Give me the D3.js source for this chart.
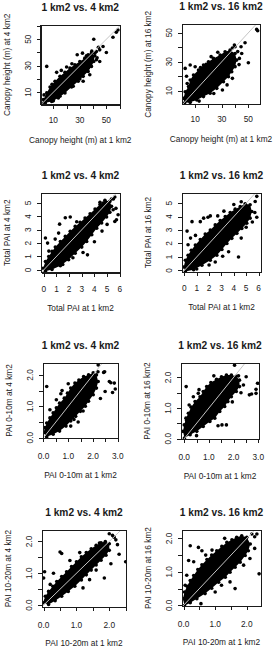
<!DOCTYPE html>
<html>
<head>
<meta charset="utf-8">
<script src="https://cdn.jsdelivr.net/npm/d3@7"></script>
<style>
  body { margin: 0; background: #fff; }
  svg { display: block; font-family: "Liberation Sans", Arial, sans-serif; }
</style>
</head>
<body>
<svg id="chart" width="275" height="647"></svg>
<script>
// titles / labels
const titles = ["1 km2 vs. 4 km2", "1 km2 vs. 16 km2"];
const xLabels = ["Canopy height (m) at 1 km2", "Total PAI at 1 km2", "PAI 0-10m at 1 km2", "PAI 10-20m at 1 km2"];
const yLabels = [
  ["Canopy height (m) at 4 km2", "Canopy height (m) at 16 km2"],
  ["Total PAI at 4 km2", "Total PAI at 16 km2"],
  ["PAI 0-10m at 4 km2", "PAI 0-10m at 16 km2"],
  ["PAI 10-20m at 4 km2", "PAI 10-20m at 16 km2"]
];

// ticks (R shows only the labels that fit)
const canopyTicks = [0, 10, 20, 30, 40, 50, 60];
const canopyTickLabels = [10, 30, 50];
const totalTicks = [0, 1, 2, 3, 4, 5, 6];
const totalTickLabels = [0, 1, 2, 3, 4, 5, 6];
const layerTicks = [0, 0.5, 1, 1.5, 2, 2.5, 3];
const layerTickLabels = [0, 1, 2, 3];

// dense cloud outline + single points
const canopy4Core = [[2.5,4.5],[5,9.5],[7.5,14],[11.25,18.25],[15,22],[18.75,25],[22.5,28.25],[26.25,30.75],[30,33.25],[33.75,35.75],[36.25,38.25],[38.75,39.5],
  [41.25,37.5],[40.5,33.25],[38.75,29.5],[36.25,25.75],[32.5,22],[28.75,18.25],[23.75,14],[18.75,9.5],[13.75,5.75],[8.75,3],[4,2],[1.5,1.5]];
const canopy4Dots = [[5,29.5],[12.5,25],[16,26.5],[28,38.25],[32,39.5],[40.5,50],[44,44],[45,42],[42.5,34.5],[45,33.25],[50,40],[55,51.5],[58.75,57],[57.5,55.25],
  [47.5,44.5],[32.5,18.25],[37.5,23.25],[41.25,39.5],[42.5,40.75],[20,29],[24,31.5],[9,16],[3,8],[35,37.5],[39,41],[43,36],[30,20],[25,14.5],[15,7],[10,3.5]];

const canopy16Core = [[1.25,4.7],[2.5,9.3],[5,12.8],[6.25,17.4],[8.75,20.8],[12.5,24.3],[16.25,27.7],[20,30],[23.75,32.3],[28.75,34.6],[32.5,36.9],[36.25,38],
  [40,35.7],[41.25,31.1],[40,26.6],[37.5,23.1],[35,19.7],[31.25,16.2],[26.25,11.6],[21.25,8.2],[16.25,5.9],[11.25,3.6],[6.25,2],[2,1.5]];
const canopy16Dots = [[2.5,25.4],[6.25,27.7],[10,26.5],[18.25,28.2],[22,33.5],[27,36.5],[40,40.3],[43.25,32.3],[50,29.3],[45,35.7],[30.5,10.5],[56.25,52.3],[57,51.4],
  [47.5,43.1],[44.5,40.3],[38,39.5],[42,37],[3.5,20],[4,15],[14,26],[34,14],[38,18.5],[24,8],[13,2.8],[43,28],[39.5,41.5]];

const total4Core = [[-0.05,0.12],[0.13,0.62],[0.39,1.0],[0.65,1.38],[0.91,1.7],[1.31,2.12],[1.7,2.5],[2.09,2.88],[2.48,3.25],[2.87,3.55],[3.26,3.88],[3.66,4.2],[4.05,4.55],[4.44,4.88],[4.83,5.2],
  [5.22,5.12],[5.35,4.75],[5.22,4.3],[4.96,3.95],[4.57,3.5],[4.18,3.12],[3.79,2.62],[3.39,2.12],[3.0,1.7],[2.48,1.25],[1.96,0.75],[1.31,0.3],[0.65,0.02],[0.13,-0.1]];
const total4Dots = [[0.13,2.38],[0.3,2.0],[1.17,2.75],[1.25,3.42],[1.7,3.9],[2.09,3.95],[4.44,5.05],[4.7,5.0],[5.35,5.3],[5.61,5.45],[5.5,5.3],[5.48,4.5],[5.61,3.62],
  [5.74,3.75],[5.87,4.12],[3.45,1.12],[4.0,2.1],[4.6,2.9],[0.9,2.3],[2.6,3.6],[3.1,1.3],[1.5,0.4],[0.4,1.4],[2.3,0.9],[5.0,3.4],[5.7,4.6]];

const total16Core = [[-0.05,0.25],[0.08,0.75],[0.3,1.12],[0.56,1.5],[0.89,1.88],[1.29,2.3],[1.69,2.7],[2.1,3.0],[2.5,3.38],[2.9,3.7],[3.31,4.0],[3.71,4.3],[4.11,4.55],[4.52,4.75],[4.92,4.95],
  [5.32,4.88],[5.46,4.38],[5.32,3.88],[5.05,3.5],[4.65,3.12],[4.25,2.75],[3.84,2.38],[3.44,2.0],[3.04,1.55],[2.63,1.12],[2.1,0.75],[1.42,0.38],[0.75,0.05],[0.08,-0.08]];
const total16Dots = [[0.22,2.92],[0.62,3.62],[1.29,3.62],[1.56,3.88],[1.91,3.95],[2.1,4.05],[2.7,4.05],[3.2,4.4],[5.86,5.5],[5.73,5.12],[5.5,3.6],[5.86,3.95],[5.0,3.2],
  [4.38,1.0],[3.58,1.38],[2.5,0.62],[3.1,1.05],[0.5,2.4],[0.9,2.6],[1.0,0.1],[5.7,4.3],[4.0,4.9],[4.6,5.1],[2.0,0.4],[0.3,1.9],[4.6,2.4]];

const low4Core = [[0,0.16],[0.06,0.32],[0.13,0.47],[0.26,0.63],[0.39,0.79],[0.52,0.95],[0.65,1.1],[0.84,1.26],[0.97,1.42],[1.1,1.58],[1.27,1.74],[1.43,1.84],[1.62,1.95],[1.82,2.0],[2.01,2.07],
  [2.14,2.0],[2.21,1.79],[2.14,1.58],[2.01,1.37],[1.82,1.16],[1.69,1.0],[1.49,0.84],[1.3,0.68],[1.1,0.53],[0.91,0.37],[0.65,0.21],[0.39,0.11],[0.13,0.03]];
const low4Dots = [[0.13,1.63],[0.26,0.89],[0.52,1.21],[0.7,1.4],[2.21,2.32],[2.47,2.1],[2.43,2.08],[2.66,1.79],[2.72,1.75],[2.86,1.74],[2.49,1.47],[2.79,1.44],[2.9,1.55],
  [1.23,0.58],[1.4,0.5],[1.1,0.37],[1.88,1.5],[2.3,1.25],[1.0,1.72],[0.3,0.6],[2.2,2.1],[1.6,0.85],[0.75,1.5]];

const low16Core = [[-0.05,0.24],[0,0.45],[0.07,0.67],[0.17,0.83],[0.28,1.03],[0.44,1.21],[0.64,1.37],[0.77,1.54],[0.91,1.7],[1.08,1.83],[1.31,1.94],[1.51,2.02],[1.71,2.08],[1.91,2.08],[2.11,2.04],
  [2.24,1.91],[2.24,1.7],[2.11,1.54],[1.91,1.37],[1.77,1.21],[1.64,1.05],[1.44,0.89],[1.24,0.67],[1.04,0.56],[0.77,0.4],[0.51,0.24],[0.24,0.13],[0.01,0.02]];
const low16Dots = [[0.08,1.7],[0.37,1.37],[0.57,1.48],[2.04,2.4],[2.51,2.02],[2.64,1.43],[2.73,1.46],[2.91,1.48],[2.91,1.61],[2.97,1.81],[1.71,0.45],[1.53,0.45],[1.37,0.42],
  [1.11,0.72],[0.9,0.62],[2.3,1.5],[2.4,1.75],[0.2,1.1],[0.6,1.6],[1.2,2.05],[1.95,1.2],[0.1,0.6],[0.5,0.1],[2.2,2.05]];

const mid4Core = [[-0.02,0.07],[0.05,0.28],[0.15,0.43],[0.28,0.59],[0.4,0.74],[0.55,0.9],[0.7,1.05],[0.85,1.21],[1.0,1.36],[1.15,1.52],[1.3,1.65],[1.45,1.77],[1.6,1.88],[1.75,1.96],[1.88,2.0],
  [2.0,1.93],[2.0,1.72],[1.9,1.57],[1.75,1.41],[1.6,1.26],[1.45,1.1],[1.3,0.95],[1.15,0.79],[0.95,0.59],[0.75,0.43],[0.55,0.28],[0.35,0.14],[0.15,0.02]];
const mid4Dots = [[0,0.85],[0.03,1.05],[0.5,1.67],[0.55,1.62],[0.3,1.0],[2.0,2.24],[2.1,2.19],[2.15,2.13],[2.2,2.05],[2.5,1.36],[2.3,1.6],[1.85,0.85],[1.2,0.54],
  [1.4,0.8],[0.8,1.4],[1.1,1.65],[1.7,1.95],[2.25,1.9],[0.2,0.65],[1.6,1.1],[2.05,1.3]];

const mid16Core = [[-0.02,0.2],[0.03,0.4],[0.11,0.57],[0.21,0.74],[0.32,0.89],[0.45,1.07],[0.58,1.21],[0.74,1.37],[0.89,1.5],[1.05,1.63],[1.21,1.76],[1.37,1.88],[1.53,1.96],[1.68,2.03],[1.84,2.08],
  [2.0,2.03],[2.11,1.83],[2.05,1.63],[1.95,1.49],[1.79,1.29],[1.63,1.14],[1.47,0.99],[1.32,0.84],[1.11,0.69],[0.89,0.51],[0.68,0.35],[0.42,0.2],[0.21,0.08],[0.03,-0.01]];
const mid16Dots = [[0.21,1.78],[0.47,1.73],[0.58,1.63],[0.16,1.34],[0.32,1.3],[0.1,0.9],[2.16,2.13],[2.32,2.13],[2.25,2.05],[2.39,0.94],[2.1,1.4],[1.9,1.2],[1.63,0.5],
  [1.47,0.7],[1.0,0.4],[0.9,1.65],[1.3,2.0],[0.7,1.5],[2.25,1.7],[0.05,0.6],[1.2,0.6],[0.55,0.05]];

// layout: plot box [left, top, right, bottom] and axis ranges per panel
const panels = [
  { row: 0, col: 0, core: canopy4Core, dots: canopy4Dots, box: [40.5, 25, 120, 104.5], xDom: [0.3, 60.3], yDom: [0.75, 60.75], ticks: "canopy" },
  { row: 0, col: 1, core: canopy16Core, dots: canopy16Dots, box: [182, 24.5, 260, 104], xDom: [0.1, 58.75], yDom: [0.8, 55.7], ticks: "canopy" },
  { row: 1, col: 0, core: total4Core, dots: total4Dots, box: [41, 193, 120, 272.5], xDom: [-0.22, 6.02], yDom: [-0.2, 5.75], ticks: "total" },
  { row: 1, col: 1, core: total16Core, dots: total16Dots, box: [182, 193, 261, 272], xDom: [-0.19, 6.2], yDom: [-0.12, 5.75], ticks: "total" },
  { row: 2, col: 0, core: low4Core, dots: low4Dots, box: [43, 363, 118, 438], xDom: [-0.02, 3.01], yDom: [-0.01, 2.38], ticks: "layer" },
  { row: 2, col: 1, core: low16Core, dots: low16Dots, box: [181, 363, 259, 439], xDom: [-0.13, 3.03], yDom: [-0.01, 2.47], ticks: "layer" },
  { row: 3, col: 0, core: mid4Core, dots: mid4Dots, box: [42, 530, 126, 607], xDom: [-0.05, 2.51], yDom: [-0.06, 2.36], ticks: "layer" },
  { row: 3, col: 1, core: mid16Core, dots: mid16Dots, box: [182, 530, 261, 606], xDom: [-0.05, 2.45], yDom: [-0.02, 2.25], ticks: "layer" }
];
const tickSets = {
  canopy: { ticks: canopyTicks, labels: canopyTickLabels, fmt: d3.format("d") },
  total: { ticks: totalTicks, labels: totalTickLabels, fmt: d3.format("d") },
  layer: { ticks: layerTicks, labels: layerTickLabels, fmt: d3.format(".1f") }
};
const xTickOff = [18, 19, 21, 21];
const xLabOff = [38, 38, 40, 39];

const ink = "#1a1a1a";
const svg = d3.select("#chart");

panels.forEach((p, i) => {
  const [left, top, right, bottom] = p.box;
  const x = d3.scaleLinear().domain(p.xDom).range([left, right]);
  const y = d3.scaleLinear().domain(p.yDom).range([bottom, top]);
  const ts = tickSets[p.ticks];
  const inX = v => v >= p.xDom[0] && v <= p.xDom[1];
  const inY = v => v >= p.yDom[0] && v <= p.yDom[1];
  const g = svg.append("g");

  g.append("clipPath").attr("id", "clip" + i)
    .append("rect").attr("x", left).attr("y", top).attr("width", right - left).attr("height", bottom - top);
  const plot = g.append("g").attr("clip-path", `url(#clip${i})`);

  // solid core of the cloud
  plot.append("path")
    .datum(p.core)
    .attr("d", d3.line().x(d => x(d[0])).y(d => y(d[1])).curve(d3.curveLinearClosed))
    .attr("fill", "#000");

  plot.selectAll("circle")
    .data(p.core.concat(p.dots))
    .join("circle")
    .attr("cx", d => x(d[0]))
    .attr("cy", d => y(d[1]))
    .attr("r", 1.8)
    .attr("fill", "#000");

  // 1:1 line
  const lo = Math.min(p.xDom[0], p.yDom[0]), hi = Math.max(p.xDom[1], p.yDom[1]);
  plot.append("line")
    .attr("x1", x(lo)).attr("y1", y(lo))
    .attr("x2", x(hi)).attr("y2", y(hi))
    .attr("stroke", "#c4c4c4").attr("stroke-width", 1);

  // axes (ticks only; labels placed below)
  const xa = g.append("g").attr("transform", `translate(0,${bottom})`)
    .call(d3.axisBottom(x).tickValues(ts.ticks.filter(inX)).tickSize(4).tickSizeOuter(0).tickFormat(""));
  const ya = g.append("g").attr("transform", `translate(${left},0)`)
    .call(d3.axisLeft(y).tickValues(ts.ticks.filter(inY)).tickSize(4).tickSizeOuter(0).tickFormat(""));
  [xa, ya].forEach(a => {
    a.selectAll("path, line").attr("stroke", ink).attr("shape-rendering", "crispEdges");
  });

  g.append("rect")
    .attr("x", left).attr("y", top)
    .attr("width", right - left).attr("height", bottom - top)
    .attr("fill", "none").attr("stroke", ink).attr("stroke-width", 1)
    .attr("shape-rendering", "crispEdges");

  g.selectAll(".xt")
    .data(ts.labels.filter(inX))
    .join("text")
    .attr("x", d => x(d))
    .attr("y", bottom + xTickOff[p.row])
    .attr("text-anchor", "middle")
    .attr("font-size", "8.3px")
    .attr("fill", ink)
    .text(d => ts.fmt(d));

  g.selectAll(".yt")
    .data(ts.labels.filter(inY))
    .join("text")
    .attr("transform", d => `translate(${left - 10},${y(d)}) rotate(-90)`)
    .attr("text-anchor", "middle")
    .attr("font-size", "8.3px")
    .attr("fill", ink)
    .text(d => ts.fmt(d));

  g.append("text")
    .attr("x", (left + right) / 2)
    .attr("y", top - 14.5)
    .attr("text-anchor", "middle")
    .attr("font-size", "10.2px")
    .attr("font-weight", "bold")
    .attr("fill", ink)
    .text(titles[p.col]);

  g.append("text")
    .attr("x", (left + right) / 2)
    .attr("y", bottom + xLabOff[p.row])
    .attr("text-anchor", "middle")
    .attr("font-size", "8.3px")
    .attr("fill", ink)
    .text(xLabels[p.row]);

  g.append("text")
    .attr("transform", `translate(${left - 31},${(top + bottom) / 2}) rotate(-90)`)
    .attr("text-anchor", "middle")
    .attr("font-size", "8.3px")
    .attr("fill", ink)
    .text(yLabels[p.row][p.col]);
});
</script>
</body>
</html>
